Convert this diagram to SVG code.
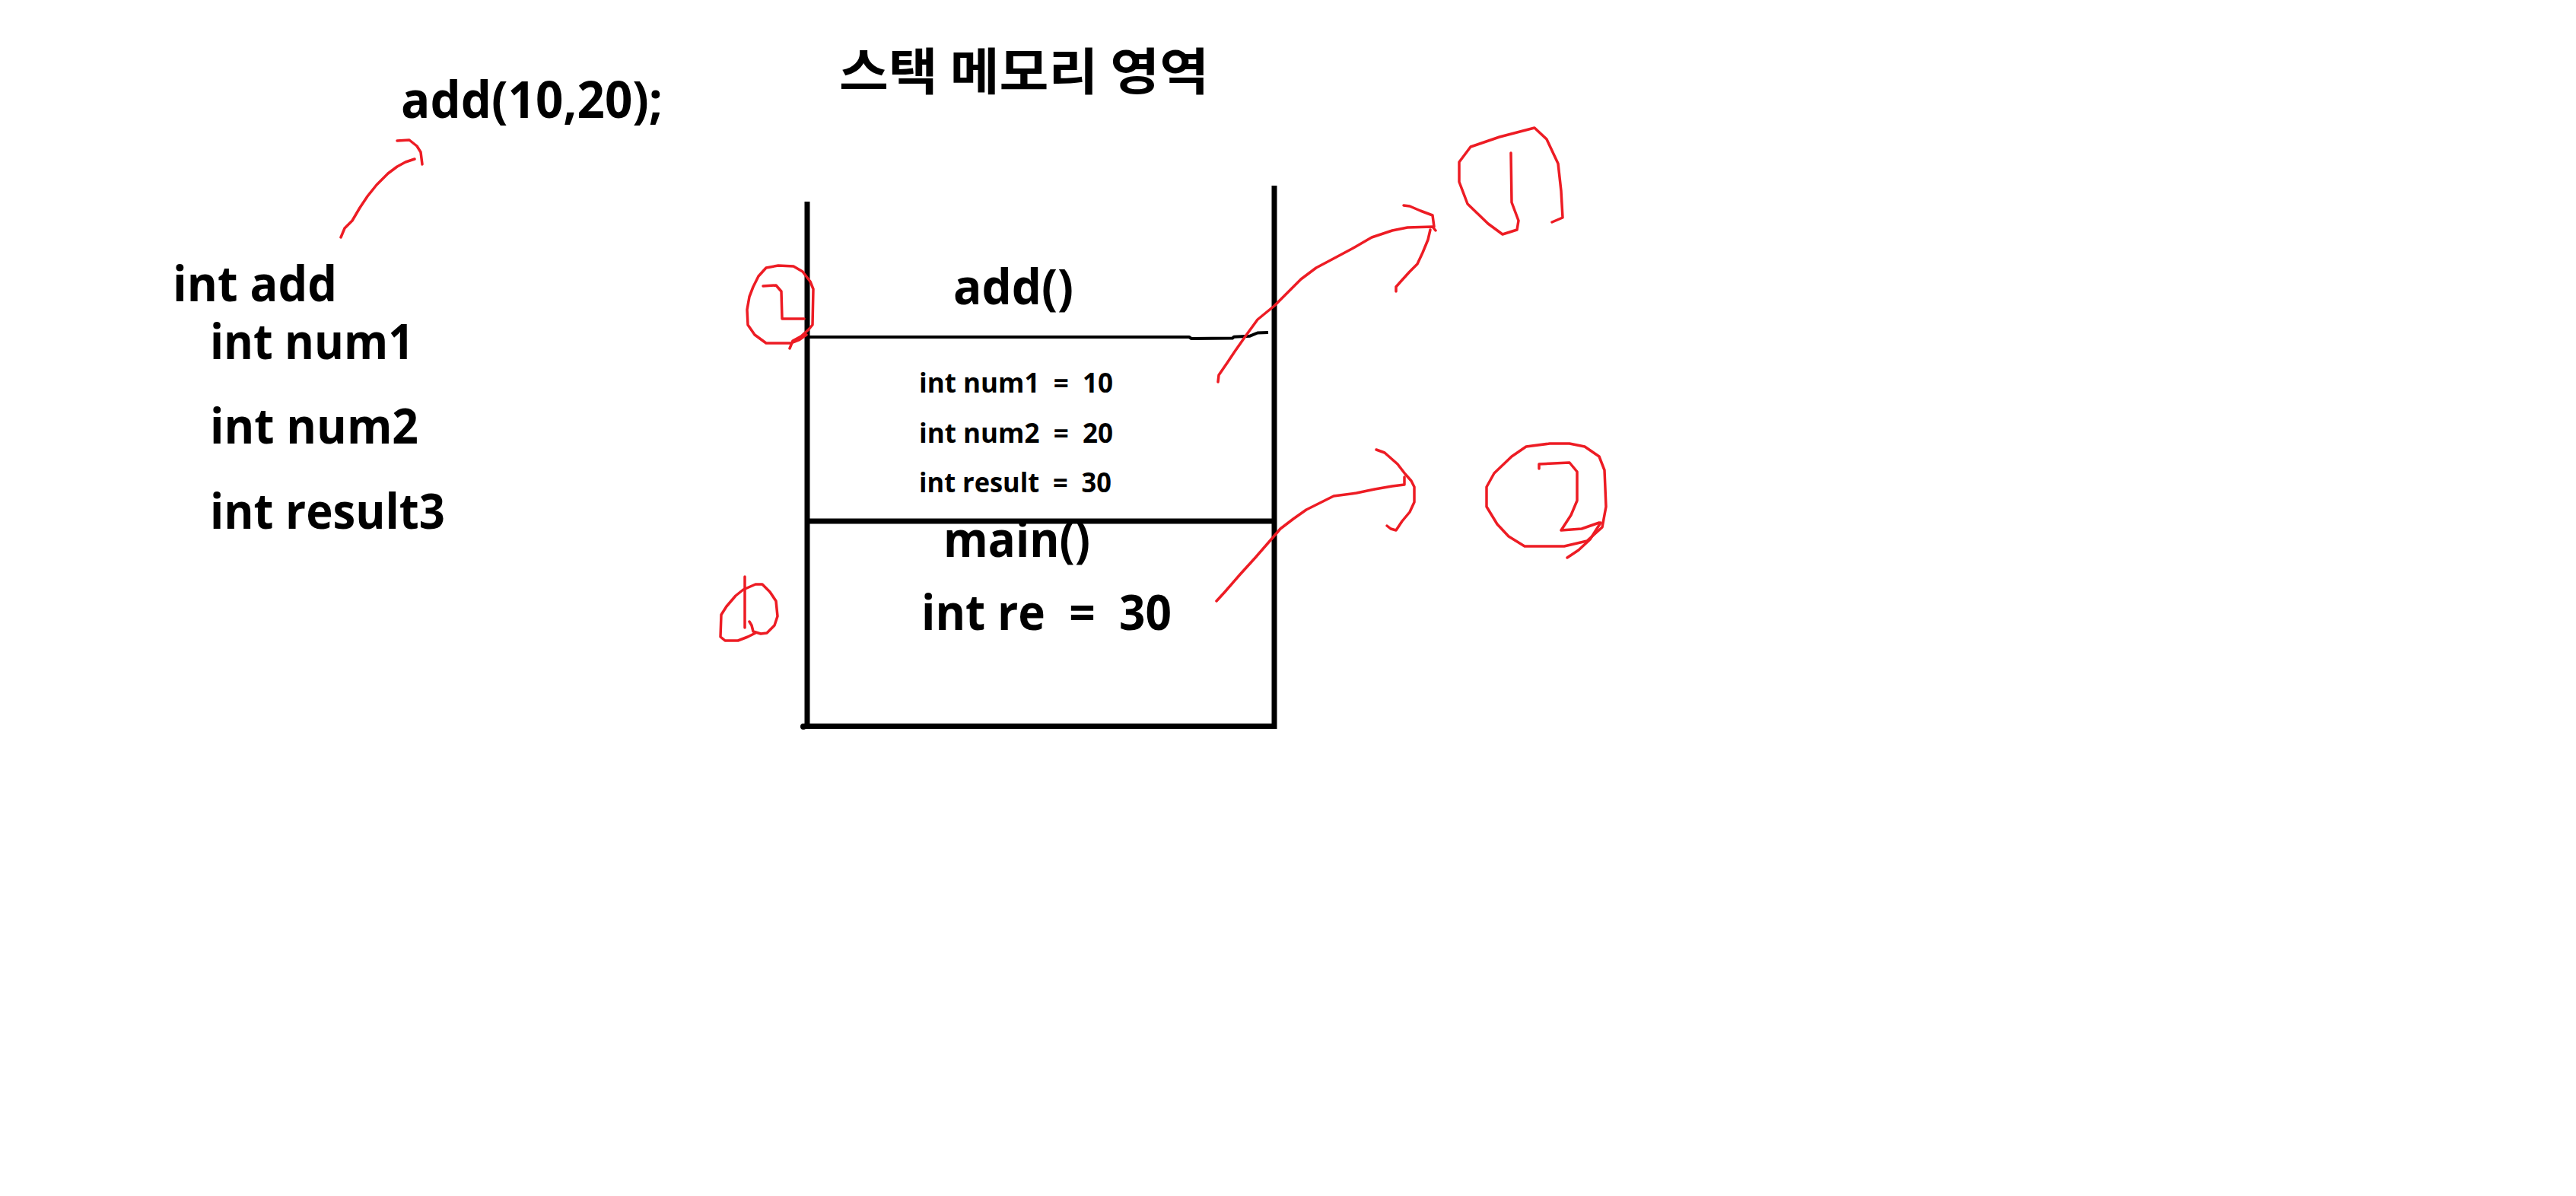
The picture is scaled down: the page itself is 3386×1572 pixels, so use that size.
<svg xmlns="http://www.w3.org/2000/svg" width="3386" height="1572" viewBox="0 0 3386 1572">
<style>
.t{font-family:"Open Sans","Liberation Sans",sans-serif;font-weight:700;fill:#000;}
.k{font-family:"Noto Sans CJK KR","Noto Sans",sans-serif;font-weight:700;fill:#000;}
.big{font-size:64px;}
.small{font-size:36px;}
.blk{stroke:#000;fill:none;stroke-width:7;}
.thin{stroke:#000;fill:none;stroke-width:4;stroke-linejoin:round;}
.red{stroke:#ED1C24;fill:none;stroke-width:3.5;stroke-linejoin:round;stroke-linecap:round;}
</style>
<rect x="0" y="0" width="3386" height="1572" fill="#fff"/>

<g id="title">
<text class="k" x="1103" y="118" font-size="66" textLength="486" lengthAdjust="spacingAndGlyphs">스택 메모리 영역</text>
</g>

<g id="call">
<text class="t" x="527" y="155" font-size="66" textLength="344" lengthAdjust="spacingAndGlyphs">add(10,20);</text>
</g>

<g id="signature">
<text class="t big" x="227" y="396" textLength="216" lengthAdjust="spacingAndGlyphs">int add</text>
<text class="t big" x="276" y="472" textLength="268" lengthAdjust="spacingAndGlyphs">int num1</text>
<text class="t big" x="276" y="583" textLength="274" lengthAdjust="spacingAndGlyphs">int num2</text>
<text class="t big" x="276" y="695" textLength="309" lengthAdjust="spacingAndGlyphs">int result3</text>
</g>

<g id="stack">
<line class="blk" x1="1061" y1="265" x2="1061" y2="958"/>
<line class="blk" x1="1675" y1="244" x2="1675" y2="958"/>
<line class="blk" x1="1057" y1="954.5" x2="1678" y2="954.5"/>
<circle cx="1056" cy="955" r="4" fill="#000"/>
</g>

<g id="frame-add">
<text class="t big" x="1253" y="400" textLength="158" lengthAdjust="spacingAndGlyphs">add()</text>
<path class="thin" d="M1063,443 L1563,443 L1566,445 L1620,444.5 L1622,442.7 L1643,441.7 L1653,437.5 L1667,437"/>
<text class="t small" x="1208" y="516" textLength="255" lengthAdjust="spacingAndGlyphs" style="white-space:pre">int num1  =  10</text>
<text class="t small" x="1208" y="582" textLength="255" lengthAdjust="spacingAndGlyphs" style="white-space:pre">int num2  =  20</text>
<text class="t small" x="1208" y="647" textLength="253" lengthAdjust="spacingAndGlyphs" style="white-space:pre">int result  =  30</text>
</g>

<g id="frame-main">
<line class="blk" x1="1061" y1="685" x2="1675" y2="685"/>
<text class="t big" x="1240" y="732" textLength="193" lengthAdjust="spacingAndGlyphs">main()</text>
<text class="t" x="1211" y="828" font-size="65" textLength="329" lengthAdjust="spacingAndGlyphs" style="white-space:pre">int re  =  30</text>
</g>

<g id="mark-1">
<path class="red" d="M979,758 L979,825"/>
<path class="red" d="M985,817 L988,822 L990,830 L1000,833 L1008,832 L1018,822 L1022,810 L1020,790 L1012,778 L1002,768 L993,768 L977,775 L967,783 L955,797 L948,808 L947,837 L953,842 L970,842 L983,837 L993,832"/>
</g>

<g id="mark-7">
<path class="red" d="M1003,376 L1020,375 L1027,383 L1028,419 L1057,419"/>
<path class="red" d="M1038,458 L1042,448 L1053,442 L1063,433 L1068,427 L1069,380 L1065,370 L1055,357 L1043,350 L1023,349 L1007,352 L997,363 L990,377 L985,390 L982,407 L983,427 L992,440 L1007,451 L1040,451 L1050,447 L1060,440"/>
</g>

<g id="mark-5">
<path class="red" d="M1986,201 L1987,266 L1996,290 L1994,302 L1975,308 L1956,294 L1929,268 L1918,239 L1918,213 L1933,193 L1971,180 L2017,168 L2033,183 L2048,215 L2052,251 L2054,286 L2040,292"/>
</g>

<g id="mark-2">
<path class="red" d="M2063,583 L2037,583 L2006,587 L1987,600 L1964,622 L1954,640 L1954,666 L1968,689 L1983,705 L2004,718 L2056,718 L2086,711 L2106,693 L2111,666 L2109,618 L2102,600 L2083,587 L2063,583"/>
<path class="red" d="M2023,616 L2023,610 L2063,608 L2073,620 L2073,658 L2065,677 L2052,697 L2079,695 L2102,687"/>
<path class="red" d="M2104,687 L2090,709 L2075,723 L2060,733"/>
</g>

<g id="connectors">
<path class="red" d="M448,312 L453,300 L463,290 L473,273 L483,258 L495,243 L510,228 L522,219 L533,213 L545,209"/>
<path class="red" d="M522,185 L538,184 L548,192 L553,200 L555,216"/>
<path class="red" d="M1601,502 L1602,493 L1613,477 L1623,462 L1637,442 L1653,420 L1675,402 L1690,387 L1710,367 L1730,352 L1747,343 L1777,327 L1803,312 L1830,303 L1850,299 L1883,298 L1887,303"/>
<path class="red" d="M1845,270 L1853,271 L1867,277 L1883,283 L1885,298"/>
<path class="red" d="M1880,302 L1877,315 L1870,332 L1863,347 L1853,357 L1843,368 L1835,377 L1835,383"/>
<path class="red" d="M1599,790 L1610,778 L1630,755 L1650,733 L1670,710 L1683,695 L1700,682 L1717,670 L1733,662 L1753,652 L1783,648 L1807,643 L1830,639 L1846,637 L1846,627"/>
<path class="red" d="M1809,591 L1820,595 L1837,610 L1847,623 L1855,632 L1859,640 L1859,660 L1853,673 L1843,685 L1835,697 L1828,695 L1823,691"/>
</g>
</svg>
